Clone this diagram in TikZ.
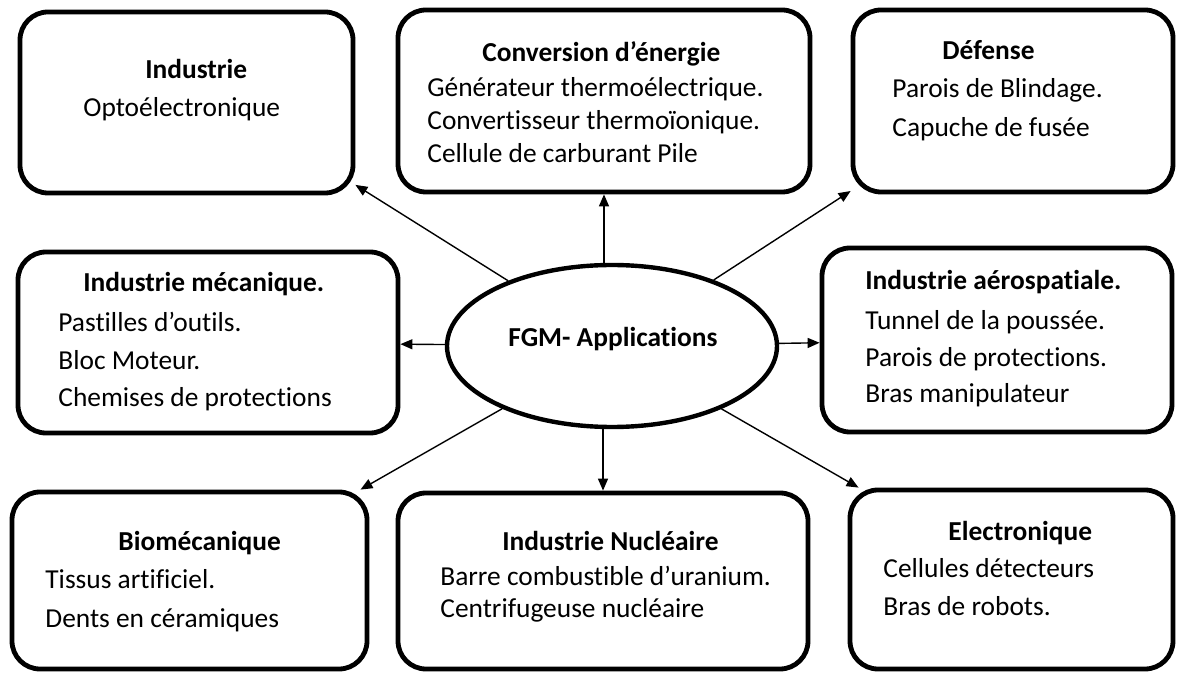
\documentclass[tikz,border=0pt]{standalone}
\usepackage{fontspec}
\setmainfont{Carlito}[Ligatures=NoCommon]
\usepackage{tikz}
\usetikzlibrary{arrows.meta,shapes.geometric,fit}

\begin{document}
\begin{tikzpicture}[x=0.5pt,y=-0.5pt,->,>={Triangle[length=6pt,width=5pt]},
   font=\fontsize{13.7}{16}\selectfont,
   boite/.style={draw,line width=2.4pt,rounded corners=14pt,inner sep=0pt},
   centre fgm/.style={ellipse,draw,line width=2.2pt,inner sep=0pt,
                      minimum width=165pt,minimum height=81pt},
   titre/.style={font=\fontsize{13.7}{16}\selectfont\bfseries,anchor=base west,inner sep=0pt},
   ligne/.style={anchor=base west,inner sep=0pt},
   fleche/.style={line width=0.7pt}]

  \useasboundingbox (0,0) rectangle (1178,673);

  % les boites
  \node[boite,fit={(20,12) (353,193)}] (opto) {};
  \node[boite,fit={(398,10) (810,192)}] (conv) {};
  \node[boite,fit={(853,10) (1173,192)}] (def) {};
  \node[boite,fit={(18,252) (398,433)}] (meca) {};
  \node[boite,fit={(822,248) (1172,432)}] (aero) {};
  \node[boite,fit={(12,492) (367,669)}] (bio) {};
  \node[boite,fit={(398,493) (808,669)}] (nucl) {};
  \node[boite,fit={(850,490) (1173,669)}] (elec) {};

  \node[centre fgm] (centre) at (612,346) {};
  \node[titre] (centre-titre) at (508,347) {FGM- Applications};

  % les textes
  \node[titre] (opto-titre) at (145,79) {Industrie};
  \node[ligne] (opto-1) at (83,117) {Optoélectronique};

  \node[titre] (conv-titre) at (482,62) {Conversion d’énergie};
  \foreach \t/\y [count=\i] in {Générateur thermoélectrique./97,
      Convertisseur thermoïonique./130,Cellule de carburant Pile/163}
    \node[ligne] (conv-\i) at (427,\y) {\t};

  \node[titre] (def-titre) at (942,60) {Défense};
  \foreach \t/\y [count=\i] in {Parois de Blindage./98,Capuche de fusée/137}
    \node[ligne] (def-\i) at (892,\y) {\t};

  \node[titre] (meca-titre) at (83,292) {Industrie mécanique.};
  \foreach \t/\y [count=\i] in {Pastilles d’outils./332,Bloc Moteur./370,
      Chemises de protections/407}
    \node[ligne] (meca-\i) at (58,\y) {\t};

  \node[titre] (aero-titre) at (865,290) {Industrie aérospatiale.};
  \foreach \t/\y [count=\i] in {Tunnel de la poussée./330,
      Parois de protections./367,Bras manipulateur/403}
    \node[ligne] (aero-\i) at (865,\y) {\t};

  \node[titre] (bio-titre) at (118,550) {Biomécanique};
  \foreach \t/\y [count=\i] in {Tissus artificiel./588,Dents en céramiques/627}
    \node[ligne] (bio-\i) at (45,\y) {\t};

  \node[titre] (nucl-titre) at (502,550) {Industrie Nucléaire};
  \foreach \t/\y [count=\i] in {Barre combustible d’uranium./585,
      Centrifugeuse nucléaire/617}
    \node[ligne] (nucl-\i) at (440,\y) {\t};

  \node[titre] (elec-titre) at (948,540) {Electronique};
  \foreach \t/\y [count=\i] in {Cellules détecteurs/577,Bras de robots./615}
    \node[ligne] (elec-\i) at (883,\y) {\t};

  % les fleches
  \draw[fleche] (centre) -- (opto.-26);
  \draw[fleche] (centre.north -| conv.south) -- (conv.south);
  \draw[fleche] (centre) -- (def.209);
  \draw[fleche] (centre) -- (meca);
  \draw[fleche] (centre) -- (aero);
  \draw[fleche] (centre) -- (bio.28);
  \draw[fleche] (centre.south -| nucl.north) -- (nucl.north);
  \draw[fleche] (centre) -- (elec.149);
\end{tikzpicture}
\end{document}
